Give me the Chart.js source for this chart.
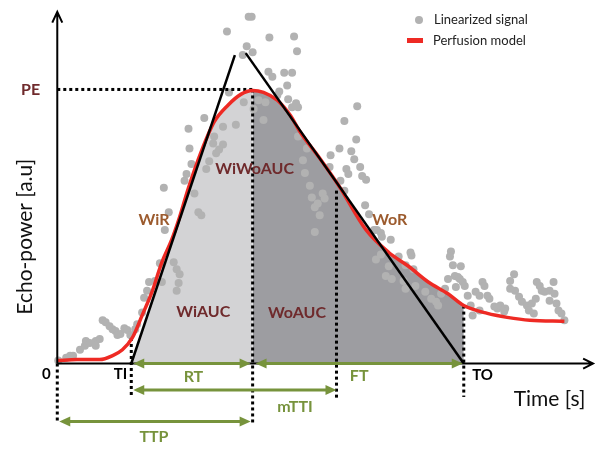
<!DOCTYPE html>
<html>
<head>
<meta charset="utf-8">
<script src="https://cdn.jsdelivr.net/npm/chart.js@4.4.0/dist/chart.umd.min.js"></script>
<style>
  html, body { margin: 0; padding: 0; background: #fff; }
  #box { width: 598px; height: 452px; }
</style>
</head>
<body>
<div id="box"><canvas id="perfusionChart"></canvas></div>
<script>
// Linearized signal (time, echo-power)
const signalX = [1, 9, 13, 16, 23, 28, 29, 33, 39, 43, 39, 46, 49, 53, 56, 59, 61, 64, 68, 71, 74, 79, 81, 86, 88, 91, 93, 99, 104, 106, 109, 113, 108, 118, 121, 124, 123, 121,
  129, 131, 136, 134, 133, 149, 139, 143, 146, 151, 154, 158, 159, 168, 161, 168, 181, 189, 164, 174, 199, 209, 211,
  172, 194, 197, 215, 240, 243, 192, 188, 198, 214, 218, 230, 238, 233, 225, 223, 234, 242, 238, 204, 244,
  304, 291, 303, 286, 277, 298, 301, 307, 309, 313, 293, 295, 276, 287, 291, 312, 316, 249, 251, 256, 258, 261, 269, 271, 264, 266, 244, 253,
  324, 328, 329, 338, 358, 359, 399, 398, 401, 403, 396, 406, 404, 411, 353, 361, 336, 333, 339, 346, 323, 328, 351, 353, 363, 373, 379, 384, 386, 393, 389, 261, 321,
  409, 408, 413, 416, 419, 421, 424, 428, 431, 433, 436, 438, 443, 446, 449, 454, 453, 459, 463, 459, 464, 468, 471, 476, 478, 481, 483, 486, 489, 491, 494, 499, 503, 504, 499, 506, 508, 511, 514, 485, 428];
const signalY = [3, 6, 8, 8, 14, 18, 23, 21, 23, 25, 18, 44, 42, 38, 35, 33, 29, 30, 36, 34, 29, 35, 40, 52, 67, 74, 83, 84, 102, 83, 136, 154, 179, 103, 96, 91, 82, 74,
  186, 193, 203, 219, 239, 250, 173, 154, 151, 198, 206, 224, 231, 223, 214, 241, 243, 266, 218, 276, 259, 248, 266,
  338, 353, 353, 332, 333, 318, 323, 314, 317, 297, 292, 296, 296, 283, 277, 273, 269, 265, 261, 268, 261,
  262, 247, 228, 219, 212, 216, 208, 200, 191, 187, 198, 193, 200, 186, 176, 161, 152, 207, 194, 181, 169, 159, 173, 168, 163, 151, 231, 219,
  136, 133, 129, 126, 113, 110, 114, 109, 100, 89, 86, 88, 78, 83, 100, 96, 99, 89, 86, 109, 106, 111, 84, 76, 79, 73, 66, 63, 59, 76, 71, 134, 136,
  99, 86, 79, 69, 59, 49, 73, 69, 83, 79, 69, 66, 58, 56, 59, 56, 53, 76, 91, 84, 74, 68, 63, 59, 54, 61, 51, 83, 79, 74, 73, 74, 83, 71, 64, 61, 54, 51, 44, 66, 54];

// Perfusion model (fitted curve)
const modelX = [0, 20, 43, 56, 66, 76, 86, 96, 106, 116, 123, 133, 146, 159, 173, 186, 198, 209, 223, 236, 246, 266, 286, 313, 336, 356, 376, 396, 412, 436, 456, 479, 514];
const modelY = [3, 4, 4, 8, 14, 26, 49, 73, 103, 126, 146, 179, 216, 246, 263, 274, 278, 276, 268, 253, 236, 209, 180, 136, 113, 99, 83, 71, 59, 51, 47, 44, 43];

// Parameters
const timeTI = 75;
const timeTTP = 198;
const timeMTTI = 283;
const timeTO = 412;
const peakPE = 279;

// Wash-in / wash-out tangents
const washInX = [timeTI, 180];
const washInY = [0, 314];
const washOutX = [191, timeTO];
const washOutY = [316, 0];

function pts(xs, ys) {
  return xs.map((v, i) => ({ x: v, y: ys[i] }));
}

const modelPts = pts(modelX, modelY);
// WiAUC: from TI along the wash-in line until it meets the model, then under the model up to TTP
const wiPts = [{ x: timeTI, y: 0 }, { x: 153, y: 231 }].concat(
  modelPts.filter((p) => p.x >= 159 && p.x <= timeTTP)
);
// WoAUC: under the model from TTP to TO
const woPts = modelPts.filter((p) => p.x >= timeTTP && p.x <= timeTO);

function dotted(a, b) {
  return {
    type: "line",
    data: [a, b],
    borderColor: "#000",
    borderWidth: 3,
    borderDash: [3, 3],
    pointRadius: 0,
    fill: false,
    order: 6,
  };
}

const labels = [
  { text: "PE", x: -27, y: peakPE, color: "#6f2a2c", font: "bold 16px Lato" },
  { text: "WiR", x: 98, y: 146, color: "#9c5b2e", font: "bold 16px Lato" },
  { text: "WoR", x: 337, y: 146, color: "#9c5b2e", font: "bold 16px Lato" },
  { text: "WiWoAUC", x: 200, y: 198, color: "#6f2a2c", font: "bold 16px Lato" },
  { text: "WiAUC", x: 148, y: 53, color: "#6f2a2c", font: "bold 16px Lato" },
  { text: "WoAUC", x: 243, y: 52, color: "#6f2a2c", font: "bold 16px Lato" },
  { text: "RT", x: 138, y: -14, color: "#77933c", font: "bold 16px Lato" },
  { text: "FT", x: 306, y: -13, color: "#77933c", font: "bold 16px Lato" },
  { text: "mTTI", x: 241, y: -44, color: "#77933c", font: "bold 16px Lato" },
  { text: "TTP", x: 98, y: -75, color: "#77933c", font: "bold 16px Lato" },
  { text: "0", x: -11, y: -11, color: "#000", font: "bold 15px Lato" },
  { text: "TI", x: 64, y: -11, color: "#000", font: "bold 15px Lato" },
  { text: "TO", x: 431, y: -12, color: "#000", font: "bold 15px Lato" },
  { text: "Time [s]", x: 499, y: -36, color: "#111", font: "21px Lato" },
];

function arrowHead(ctx, x, y, dir) {
  ctx.beginPath();
  ctx.moveTo(x, y);
  ctx.lineTo(x - dir * 11, y - 5);
  ctx.lineTo(x - dir * 11, y + 5);
  ctx.closePath();
  ctx.fill();
}

const annotations = {
  id: "annotations",
  afterDatasetsDraw(chart) {
    const ctx = chart.ctx;
    const px = (v) => chart.scales.x.getPixelForValue(v);
    const py = (v) => chart.scales.y.getPixelForValue(v);
    ctx.save();

    // axes with open arrow heads
    ctx.strokeStyle = "#000";
    ctx.lineWidth = 2;
    ctx.beginPath();
    ctx.moveTo(px(0), py(0));
    ctx.lineTo(px(543), py(0));
    ctx.moveTo(px(0), py(0));
    ctx.lineTo(px(0), py(358));
    ctx.moveTo(px(533), py(0) - 5);
    ctx.lineTo(px(543), py(0));
    ctx.lineTo(px(533), py(0) + 5);
    ctx.moveTo(px(0) - 5, py(347));
    ctx.lineTo(px(0), py(358));
    ctx.lineTo(px(0) + 5, py(347));
    ctx.stroke();

    // green double arrows
    const arrows = [
      [timeTI + 2, timeTTP - 2, 0],
      [timeTTP + 3, timeTO - 1, 0],
      [timeTI + 2, timeMTTI, -27],
      [2, timeTTP - 2, -59],
    ];
    ctx.strokeStyle = "#77933c";
    ctx.fillStyle = "#77933c";
    ctx.lineWidth = 3;
    arrows.forEach((a) => {
      const x1 = px(a[0]), x2 = px(a[1]), yy = py(a[2]);
      ctx.beginPath();
      ctx.moveTo(x1 + 8, yy);
      ctx.lineTo(x2 - 8, yy);
      ctx.stroke();
      arrowHead(ctx, x1, yy, -1);
      arrowHead(ctx, x2, yy, 1);
    });

    // text labels
    ctx.textAlign = "center";
    ctx.textBaseline = "middle";
    labels.forEach((l) => {
      ctx.font = l.font;
      ctx.fillStyle = l.color;
      ctx.fillText(l.text, px(l.x), py(l.y));
    });

    // y axis title
    ctx.save();
    ctx.translate(px(-32), py(129));
    ctx.rotate(-Math.PI / 2);
    ctx.font = "21px Lato";
    ctx.fillStyle = "#111";
    ctx.fillText("Echo-power [a.u]", 0, 0);
    ctx.restore();

    // legend
    const lx = chart.chartArea.left;
    const ly = chart.chartArea.top;
    ctx.fillStyle = "#b2b2b2";
    ctx.beginPath();
    ctx.arc(lx + 415, ly + 16, 4, 0, Math.PI * 2);
    ctx.fill();
    ctx.fillStyle = "#ee2a24";
    ctx.fillRect(lx + 403, ly + 34, 16, 5);
    ctx.font = "13px Lato";
    ctx.fillStyle = "#222";
    ctx.textAlign = "left";
    ctx.fillText("Linearized signal", lx + 430, ly + 16);
    ctx.fillText("Perfusion model", lx + 429, ly + 37);

    ctx.restore();
  },
};

const ctx = document.getElementById("perfusionChart").getContext("2d");
const chart = new Chart(ctx, {
  type: "line",
  data: {
    datasets: [
      {
        label: "WiAUC",
        data: wiPts,
        backgroundColor: "#d3d3d5",
        borderWidth: 0,
        pointRadius: 0,
        fill: "origin",
        cubicInterpolationMode: "monotone",
        order: 10,
      },
      {
        label: "WoAUC",
        data: woPts,
        backgroundColor: "#9d9da1",
        borderWidth: 0,
        pointRadius: 0,
        fill: "origin",
        cubicInterpolationMode: "monotone",
        order: 9,
      },
      {
        type: "scatter",
        label: "Linearized signal",
        data: pts(signalX, signalY),
        backgroundColor: "#b2b2b2",
        borderWidth: 0,
        pointRadius: 4,
        order: 8,
      },
      dotted({ x: 0, y: peakPE }, { x: timeTTP, y: peakPE }),
      dotted({ x: timeTTP, y: peakPE }, { x: timeTTP, y: -62 }),
      dotted({ x: timeMTTI, y: 176 }, { x: timeMTTI, y: -37 }),
      dotted({ x: timeTO, y: 59 }, { x: timeTO, y: -34 }),
      dotted({ x: timeTI, y: 26 }, { x: timeTI, y: -34 }),
      dotted({ x: 0, y: 0 }, { x: 0, y: -61 }),
      {
        label: "Perfusion model",
        data: modelPts,
        borderColor: "#ee2a24",
        borderWidth: 3.5,
        pointRadius: 0,
        fill: false,
        cubicInterpolationMode: "monotone",
        order: 5,
      },
      {
        label: "Wash-in",
        data: pts(washInX, washInY),
        borderColor: "#000",
        borderWidth: 2.5,
        pointRadius: 0,
        fill: false,
        order: 4,
      },
      {
        label: "Wash-out",
        data: pts(washOutX, washOutY),
        borderColor: "#000",
        borderWidth: 2.5,
        pointRadius: 0,
        fill: false,
        order: 4,
      },
    ],
  },
  options: {
    responsive: true,
    maintainAspectRatio: false,
    animation: false,
    layout: { padding: 0 },
    scales: {
      x: { type: "linear", min: -54, max: 544, display: false },
      y: { type: "linear", min: -86, max: 366, display: false },
    },
    plugins: {
      legend: { display: false },
      tooltip: { enabled: false },
    },
  },
  plugins: [annotations],
});
</script>
</body>
</html>
